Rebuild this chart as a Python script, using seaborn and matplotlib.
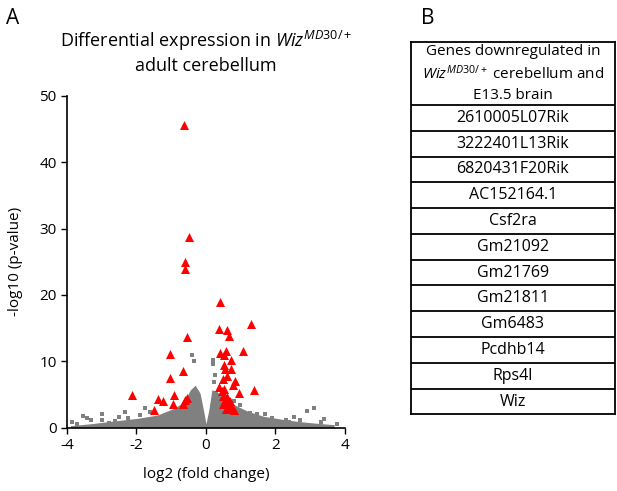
#!/usr/bin/env python3
import matplotlib
matplotlib.use("Agg")
import matplotlib.pyplot as plt
import numpy as np
import pandas as pd
import seaborn as sns

# significant genes (red triangles): log2 fold change, -log10 p
sig_lfc = [-0.63, -0.48, -0.60, -0.60, 0.40, 1.31, 0.38, 0.61, 0.66, -0.56,
           -1.03, 1.07, 0.58, 0.41, 0.53, 0.71, 0.51, 0.54, 0.71, -0.65,
           0.61, -1.03, 0.49, 0.85, 0.79, 0.38, 1.39, 0.94, -2.12, -0.92,
           -1.37, -1.25, -0.94, -1.49, -0.55, -0.60, -0.65, 0.45, 0.50, 0.55,
           0.60, 0.65, 0.70, 0.48, 0.58, 0.75, 0.52, 0.62, 0.68, 0.80]
sig_p = [45.6, 28.8, 25.0, 23.9, 19.0, 15.6, 14.9, 14.7, 13.8, 13.6,
         11.1, 11.6, 11.6, 11.3, 11.0, 10.2, 9.4, 8.9, 8.9, 8.6,
         7.8, 7.5, 7.3, 7.0, 6.4, 6.2, 5.7, 5.2, 4.9, 4.9,
         4.3, 4.0, 3.5, 2.7, 4.5, 4.1, 3.6, 5.5, 4.8, 4.2,
         3.8, 3.3, 2.9, 3.6, 2.8, 3.0, 5.9, 4.6, 4.0, 2.6]

# upper edge of the dense non-significant cloud
cloud_lfc = [-3.9, -3.3, -2.66, -1.98, -1.40, -0.92, -0.63, -0.45, -0.31, -0.17,
             -0.07, 0.0, 0.08, 0.17, 0.31, 0.51, 0.80, 1.19, 1.67, 2.15,
             2.63, 3.11, 3.69]
cloud_top = [0.3, 0.6, 1.0, 1.4, 1.9, 2.9, 3.9, 5.7, 6.4, 5.2,
             2.6, 0.6, 2.6, 5.7, 5.5, 4.2, 3.5, 2.5, 1.7, 1.3,
             0.95, 0.7, 0.45]

# scattered non-significant genes outside the dense cloud
ns_lfc = [-3.53, -3.43, -3.32, -3.0, -3.0, -2.78, -2.62, -2.33, -2.23, -1.90,
          -1.75, -0.39, -0.35, 0.20, 0.21, 0.25, 0.22, 2.91, 3.11, 3.39,
          3.76, 2.72, 2.53, 2.29, 1.71, 1.47, 1.28, 0.99, 0.80, -3.85,
          -3.7, -2.5, -1.6, 1.9, 2.4, 3.3]
ns_p = [1.7, 1.4, 1.2, 2.0, 1.1, 0.7, 1.0, 2.4, 1.4, 1.9,
        2.9, 11.0, 10.0, 10.2, 9.6, 7.9, 6.9, 2.5, 2.9, 1.3,
        0.5, 1.1, 1.6, 1.2, 2.0, 2.1, 2.2, 3.4, 4.0, 0.8,
        0.5, 1.6, 2.3, 1.5, 0.9, 0.8]

genes = ["2610005L07Rik", "3222401L13Rik", "6820431F20Rik", "AC152164.1",
         "Csf2ra", "Gm21092", "Gm21769", "Gm21811", "Gm6483", "Pcdhb14",
         "Rps4l", "Wiz"]

sns.set_theme(style="ticks")
plt.rcParams["font.family"] = ["Open Sans", "DejaVu Sans"]
plt.rcParams["mathtext.fontset"] = "custom"
plt.rcParams["mathtext.rm"] = "Open Sans"
plt.rcParams["mathtext.it"] = "Open Sans:italic"
plt.rcParams["axes.unicode_minus"] = False
plt.rcParams["text.color"] = "black"
plt.rcParams["axes.labelcolor"] = "black"

fig = plt.figure(figsize=(6.17, 4.91), dpi=100)

# ---- panel A: volcano plot
ax = fig.add_axes([0.1086, 0.129, 0.4504, 0.6755])
ax.fill_between(cloud_lfc, 0, cloud_top, color="#808080", lw=0, zorder=1)
ns = pd.DataFrame({"lfc": ns_lfc, "p": ns_p})
sns.scatterplot(data=ns, x="lfc", y="p", color="#808080", s=7, marker="s",
                linewidth=0, ax=ax, zorder=2)
sig = pd.DataFrame({"lfc": sig_lfc, "p": sig_p})
sns.scatterplot(data=sig, x="lfc", y="p", color="#FF0000", s=42, marker="^",
                linewidth=0, ax=ax, zorder=3)
ax.set_xlim(-4, 4)
ax.set_ylim(0, 50)
ax.set_xticks([-4, -2, 0, 2, 4])
ax.set_yticks([0, 10, 20, 30, 40, 50])
ax.tick_params(labelsize=11, length=4, width=1, colors="black")
for s in ["left", "bottom"]:
    ax.spines[s].set_linewidth(1.2)
    ax.spines[s].set_color("black")
sns.despine(ax=ax)
ax.set_xlabel("log2 (fold change)", fontsize=11, labelpad=10)
ax.set_ylabel("-log10 (p-value)", fontsize=11, labelpad=12)
ax.set_title("Differential expression in $\\mathit{Wiz^{MD30/+}}$\nadult cerebellum",
             fontsize=13, pad=18, linespacing=1.3, color="black")

fig.text(0.010, 0.962, "A", fontsize=15, va="center", ha="left")
fig.text(0.682, 0.962, "B", fontsize=15, va="center", ha="left")

# ---- panel B: gene table
tb = fig.add_axes([0.666, 0.156, 0.3306, 0.759])
n = len(genes)
header_h = 2.45
tb.set_xlim(0, 1)
tb.set_ylim(0, n + header_h)
tb.set_xticks([])
tb.set_yticks([])
for s in tb.spines.values():
    s.set_linewidth(1.3)
    s.set_color("black")
tb.hlines(np.arange(1, n + 1), 0, 1, color="black", lw=1.3)
for i, g in enumerate(genes):
    tb.text(0.5, n - i - 0.5, g, ha="center", va="center", fontsize=11.5)
tb.text(0.5, n + header_h / 2,
        "Genes downregulated in\n$\\mathit{Wiz^{MD30/+}}$ cerebellum and\nE13.5 brain",
        ha="center", va="center", fontsize=11, linespacing=1.4)

fig.savefig("out.png", dpi=100)
